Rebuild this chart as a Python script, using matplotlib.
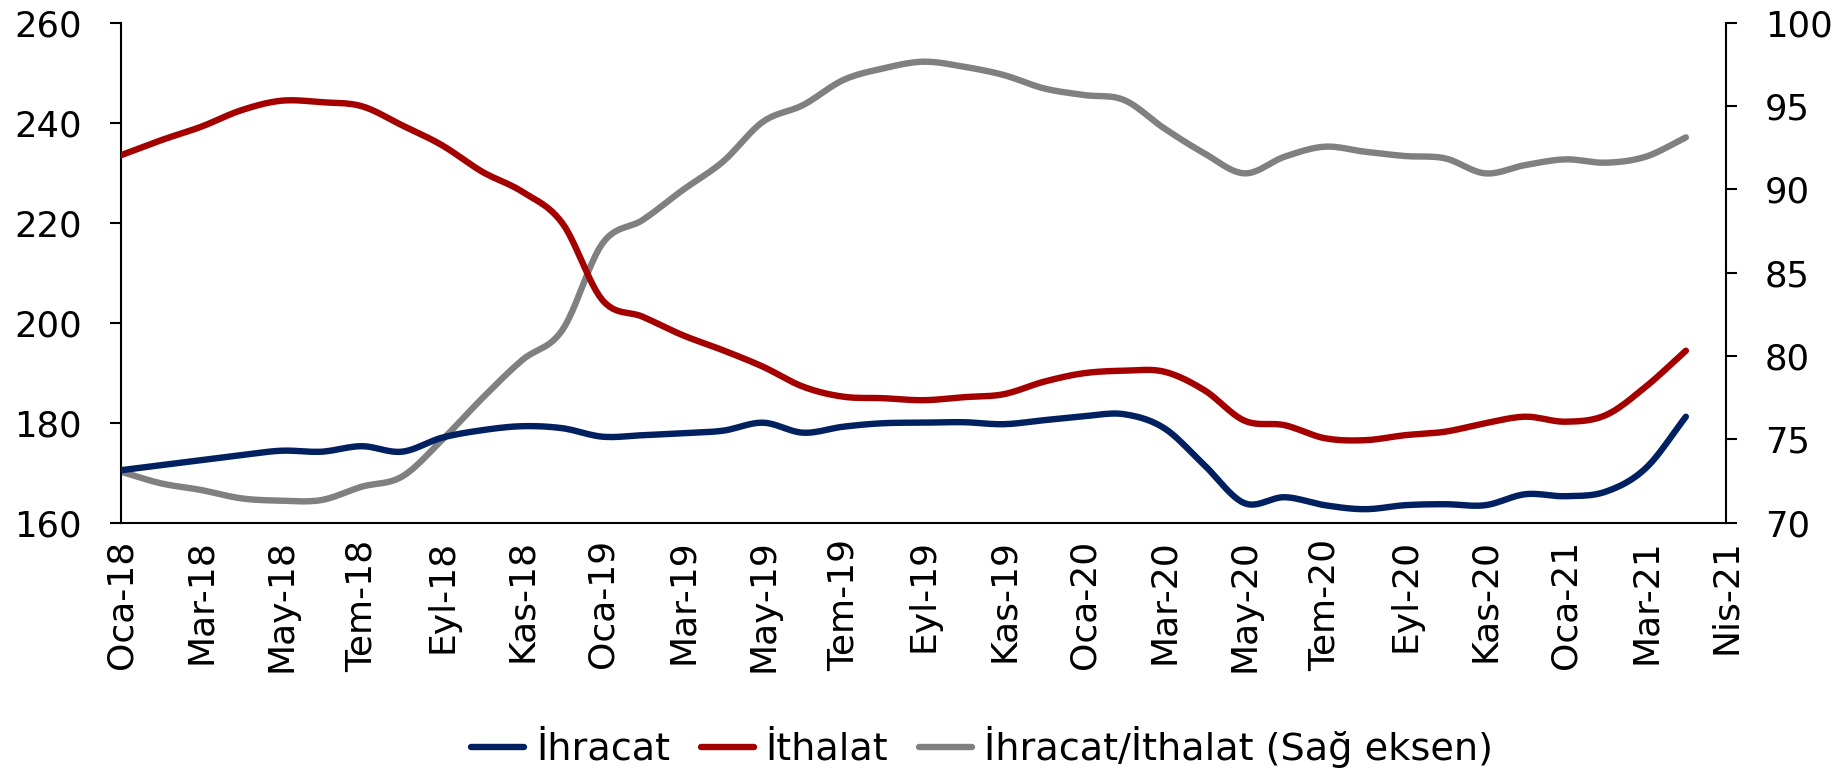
import numpy as np
import matplotlib
matplotlib.use("Agg")
import matplotlib.pyplot as plt
from matplotlib.lines import Line2D

plt.rcParams['font.family'] = ['DejaVu Sans']

# Monthly data Oca-18 .. Nis-21
ihracat = [170.5, 171.5, 172.5, 173.5, 174.4, 174.2, 175.3, 174.2, 177.0, 178.5,
           179.3, 178.9, 177.2, 177.5, 177.9, 178.4, 180.0, 178.0, 179.2, 179.9,
           180.0, 180.1, 179.7, 180.5, 181.3, 181.7, 178.9, 171.5, 163.9, 165.1,
           163.5, 162.7, 163.5, 163.7, 163.5, 165.7, 165.3, 166.2, 170.9, 181.2]
ithalat = [233.5, 236.5, 239.2, 242.5, 244.4, 244.1, 243.3, 239.5, 235.5, 230.2,
           226.2, 219.9, 204.5, 201.2, 197.5, 194.5, 191.2, 187.2, 185.2, 184.9,
           184.5, 185.1, 185.7, 188.2, 189.9, 190.4, 190.2, 186.5, 180.4, 179.5,
           176.9, 176.5, 177.5, 178.2, 179.9, 181.2, 180.2, 181.5, 187.2, 194.4]
oran = [73.06, 72.36, 71.96, 71.46, 71.32, 71.36, 72.16, 72.76, 74.96, 77.46,
        79.76, 81.56, 86.76, 88.16, 89.96, 91.66, 94.06, 95.06, 96.56, 97.26,
        97.66, 97.36, 96.86, 96.06, 95.66, 95.36, 93.66, 92.16, 90.96, 91.96,
        92.56, 92.26, 92.0, 91.86, 90.96, 91.46, 91.8, 91.6, 91.96, 93.12]
tick_labels = ['Oca-18', 'Mar-18', 'May-18', 'Tem-18', 'Eyl-18', 'Kas-18',
               'Oca-19', 'Mar-19', 'May-19', 'Tem-19', 'Eyl-19', 'Kas-19',
               'Oca-20', 'Mar-20', 'May-20', 'Tem-20', 'Eyl-20', 'Kas-20',
               'Oca-21', 'Mar-21', 'Nis-21']
series_names = ['İhracat', 'İthalat', 'İhracat/İthalat (Sağ eksen)']
colors = ['#002060', '#A50000', '#808080']


def smooth(x, y, n=12):
    """Catmull-Rom rendering of the line (like Excel's smoothed lines)."""
    x = np.asarray(x, float)
    y = np.asarray(y, float)
    px = np.concatenate([[2 * x[0] - x[1]], x, [2 * x[-1] - x[-2]]])
    py = np.concatenate([[2 * y[0] - y[1]], y, [2 * y[-1] - y[-2]]])
    xs, ys = [], []
    t = np.linspace(0, 1, n, endpoint=False)
    for i in range(1, len(px) - 2):
        for arr, out in ((px, xs), (py, ys)):
            p0, p1, p2, p3 = arr[i - 1], arr[i], arr[i + 1], arr[i + 2]
            out.extend(0.5 * ((2 * p1) + (-p0 + p2) * t
                              + (2 * p0 - 5 * p1 + 4 * p2 - p3) * t ** 2
                              + (-p0 + 3 * p1 - 3 * p2 + p3) * t ** 3))
    xs.append(x[-1])
    ys.append(y[-1])
    return np.array(xs), np.array(ys)


months = np.arange(len(ihracat))

fig = plt.figure(figsize=(18.42, 7.78), dpi=100)
ax = fig.add_axes([121 / 1842, 1 - 522.7 / 778, (1726 - 121) / 1842, 500 / 778])
ax2 = ax.twinx()

lw = 4.6
for vals, c, a in ((ihracat, colors[0], ax), (ithalat, colors[1], ax)):
    sx, sy = smooth(months, vals)
    a.plot(sx, sy, color=c, lw=lw, solid_capstyle='round', zorder=3)
sx, sy = smooth(months, oran)
ax2.plot(sx, sy, color=colors[2], lw=lw, solid_capstyle='round', zorder=2)
ax.set_zorder(ax2.get_zorder() + 1)
ax.patch.set_visible(False)

ax.set_xlim(0, 40)
ax.set_ylim(160, 260)
ax2.set_ylim(70, 100)
ax.set_yticks(np.arange(160, 261, 20))
ax2.set_yticks(np.arange(70, 101, 5))
ax.set_xticks(np.arange(0, 41, 2))
ax.set_xticklabels(tick_labels, rotation=90, fontsize=26)

for a in (ax, ax2):
    a.spines['top'].set_visible(False)
    for s in a.spines.values():
        s.set_linewidth(1.5)
ax.spines['right'].set_visible(False)
ax2.spines['left'].set_visible(False)
ax2.spines['bottom'].set_visible(False)

ax.tick_params(axis='y', labelsize=25.5, length=8, width=1.5, pad=20)
ax2.tick_params(axis='y', labelsize=25.5, length=8, width=1.5, pad=20)
ax.tick_params(axis='x', length=0, pad=12)

handles = [Line2D([], [], color=c, lw=lw, solid_capstyle='round') for c in colors]
fig.legend(handles, series_names, loc='center', bbox_to_anchor=(0.533, 0.04),
           ncol=3, frameon=False, fontsize=27.5, handlelength=1.4,
           handletextpad=0.3, columnspacing=0.8)

fig.savefig('out.png', dpi=100)
